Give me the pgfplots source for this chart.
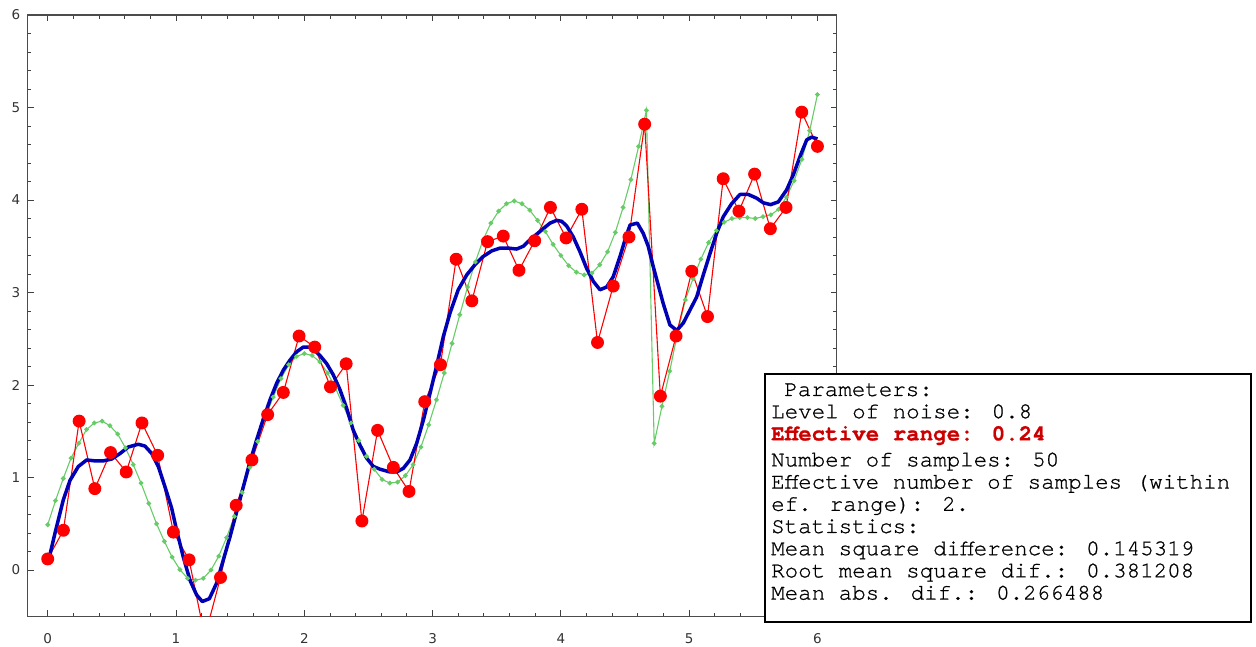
\documentclass[border=0pt]{standalone}
\usepackage{fontspec}
\setmainfont{DejaVu Sans}
\newfontfamily\cursorfont{TeX Gyre Cursor}[FakeBold=0.8]
\usepackage{pgfplots}
\pgfplotsset{compat=1.18}
\definecolor{effred}{RGB}{204,0,0}
\definecolor{estblue}{RGB}{0,0,180}
\definecolor{truegreen}{RGB}{102,204,102}
\begin{document}
\begin{tikzpicture}
\useasboundingbox (0pt,0pt) rectangle (1256pt,646pt);
\begin{axis}[
 at={(27.7pt,29.7pt)}, anchor=south west,
 width=809pt, height=601.3pt, scale only axis,
 xmin=-0.156, xmax=6.15, ymin=-0.5, ymax=6,
 xtick={0,1,2,3,4,5,6}, ytick={0,1,2,3,4,5,6},
 minor x tick num=4, minor y tick num=4,
 major tick length=6pt, minor tick length=3.5pt,
 tick style={black!75, line width=0.9pt},
 axis line style={black!70, line width=1.3pt},
 /pgf/number format/assume math mode=true,
 ticklabel style={font=\fontsize{13.5}{14}\selectfont, text=black!80},
 xticklabel style={yshift=-14pt},
 yticklabel style={xshift=-4pt},
]
\addplot[truegreen, line width=1.1pt, mark=*, mark size=1.8pt, mark options={fill=truegreen, draw=none}] table {
x y
0.0000 0.49
0.0606 0.75
0.1212 0.99
0.1818 1.21
0.2424 1.37
0.3030 1.52
0.3636 1.59
0.4242 1.61
0.4848 1.56
0.5455 1.47
0.6061 1.32
0.6667 1.14
0.7273 0.94
0.7879 0.72
0.8485 0.50
0.9091 0.31
0.9697 0.14
1.0303 0.005
1.0909 -0.09
1.1515 -0.11
1.2121 -0.09
1.2727 0.00
1.3333 0.15
1.3939 0.35
1.4545 0.58
1.5152 0.84
1.5758 1.11
1.6364 1.39
1.6970 1.65
1.7576 1.87
1.8182 2.07
1.8788 2.22
1.9394 2.31
2.0000 2.34
2.0606 2.32
2.1212 2.25
2.1818 2.13
2.2424 1.97
2.3030 1.78
2.3636 1.59
2.4242 1.40
2.4848 1.23
2.5455 1.09
2.6061 0.98
2.6667 0.94
2.7273 0.95
2.7879 1.02
2.8485 1.14
2.9091 1.33
2.9697 1.57
3.0303 1.84
3.0909 2.13
3.1515 2.45
3.2121 2.76
3.2727 3.06
3.3333 3.33
3.3939 3.57
3.4545 3.75
3.5152 3.88
3.5758 3.96
3.6364 3.99
3.6970 3.96
3.7576 3.89
3.8182 3.78
3.8788 3.66
3.9394 3.52
4.0000 3.40
4.0606 3.29
4.1212 3.22
4.1818 3.19
4.2424 3.21
4.3030 3.30
4.3636 3.44
4.4242 3.65
4.4848 3.92
4.5455 4.22
4.6061 4.58
4.6667 4.97
4.7273 1.37
4.7879 1.77
4.8485 2.15
4.9091 2.56
4.9697 2.92
5.0303 3.15
5.0909 3.36
5.1515 3.54
5.2121 3.67
5.2727 3.76
5.3333 3.80
5.3939 3.81
5.4545 3.81
5.5152 3.80
5.5758 3.82
5.6364 3.84
5.6970 3.90
5.7576 4.03
5.8182 4.21
5.8788 4.44
5.9394 4.75
6.0000 5.14
};
\addplot[red, line width=1.1pt, mark=*, mark size=5.9pt, mark options={fill=red, draw=none}] table {
x y
0.0000 0.12
0.1224 0.43
0.2449 1.61
0.3673 0.88
0.4898 1.27
0.6122 1.06
0.7347 1.59
0.8571 1.24
0.9796 0.41
1.1020 0.11
1.2245 -0.72
1.3469 -0.08
1.4694 0.70
1.5918 1.19
1.7143 1.68
1.8367 1.92
1.9592 2.53
2.0816 2.41
2.2041 1.98
2.3265 2.23
2.4490 0.53
2.5714 1.51
2.6939 1.11
2.8163 0.85
2.9388 1.82
3.0612 2.22
3.1837 3.36
3.3061 2.91
3.4286 3.55
3.5510 3.61
3.6735 3.24
3.7959 3.56
3.9184 3.92
4.0408 3.59
4.1633 3.90
4.2857 2.46
4.4082 3.07
4.5306 3.60
4.6531 4.82
4.7755 1.88
4.8980 2.53
5.0204 3.23
5.1429 2.74
5.2653 4.23
5.3878 3.88
5.5102 4.28
5.6327 3.69
5.7551 3.92
5.8776 4.95
6.0000 4.58
};
\addplot[estblue, line width=3.5pt, line join=round] table {
x y
0.000 0.065
0.057 0.40
0.122 0.76
0.174 0.97
0.239 1.12
0.304 1.19
0.369 1.18
0.433 1.18
0.499 1.20
0.564 1.26
0.628 1.33
0.706 1.36
0.758 1.34
0.811 1.26
0.862 1.12
0.914 0.90
0.966 0.67
1.005 0.43
1.057 0.14
1.109 -0.11
1.161 -0.27
1.205 -0.34
1.260 -0.31
1.317 -0.14
1.369 0.11
1.421 0.36
1.473 0.63
1.525 0.90
1.577 1.17
1.629 1.41
1.680 1.63
1.733 1.84
1.785 2.02
1.836 2.16
1.889 2.27
1.941 2.36
1.992 2.41
2.044 2.41
2.070 2.39
2.122 2.32
2.175 2.23
2.226 2.11
2.278 1.95
2.330 1.75
2.382 1.51
2.434 1.35
2.486 1.21
2.538 1.12
2.590 1.09
2.668 1.06
2.720 1.06
2.772 1.10
2.824 1.19
2.876 1.37
2.928 1.62
2.980 1.91
3.032 2.21
3.083 2.52
3.136 2.78
3.200 3.03
3.266 3.19
3.330 3.30
3.395 3.39
3.461 3.45
3.525 3.48
3.590 3.48
3.655 3.47
3.707 3.50
3.759 3.57
3.811 3.63
3.863 3.69
3.915 3.75
3.967 3.78
4.006 3.77
4.045 3.72
4.097 3.60
4.149 3.44
4.201 3.26
4.253 3.12
4.305 3.03
4.357 3.06
4.408 3.17
4.461 3.39
4.500 3.57
4.539 3.73
4.596 3.75
4.642 3.64
4.681 3.50
4.720 3.28
4.759 3.08
4.798 2.88
4.850 2.65
4.903 2.59
4.954 2.67
5.006 2.81
5.058 2.95
5.110 3.19
5.162 3.42
5.214 3.64
5.266 3.82
5.331 3.96
5.396 4.06
5.461 4.06
5.526 4.02
5.578 3.97
5.635 3.95
5.695 3.98
5.760 4.11
5.811 4.27
5.864 4.47
5.916 4.65
5.955 4.68
6.000 4.66
};
\end{axis}
\draw[line width=2pt, fill=white] (765pt,24pt) rectangle (1251pt,272pt);
\node[anchor=base west, inner sep=0pt] at (771pt,250pt) {\parbox[t]{480pt}{\cursorfont\fontsize{22.5}{22.2}\selectfont
\hspace*{13.1pt}Parameters:\\
Level of noise: 0.8\\
{\bfseries\color{effred}Effective range: 0.24}\\[3.8pt]
Number of samples: 50\\
Effective number of samples (within\\
ef. range): 2.\\
Statistics:\\
Mean square difference: 0.145319\\
Root mean square dif.: 0.381208\\
Mean abs. dif.: 0.266488}};
\end{tikzpicture}
\end{document}
